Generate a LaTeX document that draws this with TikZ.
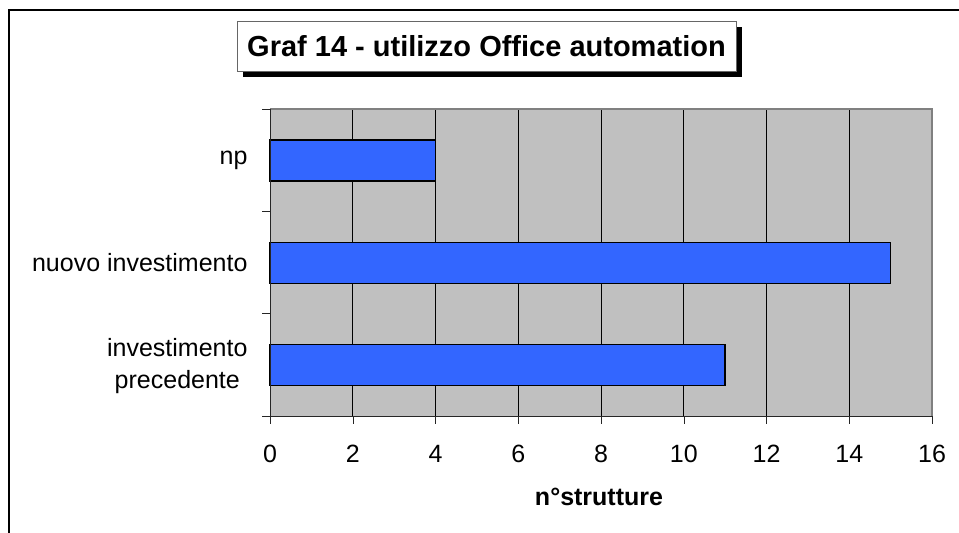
\documentclass[tikz,border=0pt]{standalone}
\usepackage{fontspec}
\setmainfont{Liberation Sans}
\usetikzlibrary{positioning,shadows}
\definecolor{barblue}{RGB}{51,102,255}
\definecolor{plotgray}{RGB}{192,192,192}

\begin{document}
\begin{tikzpicture}[x=1pt,y=-1pt,
  bar/.style = {draw=black,line width=1.6pt,fill=barblue},
  lbl/.style = {font=\fontsize{25}{32}\selectfont},
  grid/.style = {line width=0.8pt,black}]
\def\xo{270}
\def\xe{932}
\def\xu{41.375}
\def\ytop{109}
\def\ybot{416}
\useasboundingbox (0,0) rectangle (959,533);
% outer frame
\draw[line width=1.5pt] (9,533) -- (9,10) -- (959,10);
% plot area
\fill[plotgray] (\xo,\ytop) rectangle (\xe,\ybot);
\foreach \v in {2,4,...,14} {
	\draw[grid] (\xo+\v*\xu,\ytop) -- (\xo+\v*\xu,\ybot);
}
\draw[gray,line width=2pt] (\xo,\ytop) -- (\xe,\ytop) -- (\xe,\ybot);
% bars
\foreach \val/\yc/\nm in {4/160.5/np,15/263/nuovo,11/365/prec} {
	\draw[bar] (\xo,\yc-20.5) rectangle (\xo+\val*\xu,\yc+20.5);
}
% axes and ticks
\draw[line width=1pt,black!85] (\xo,\ytop) -- (\xo,\ybot) -- (\xe,\ybot);
\foreach \v in {0,2,...,16} {
	\draw[black!85] (\xo+\v*\xu,\ybot) -- ++(0,8);
	\node[lbl] (tick\v) at (\xo+\v*\xu,454) {\v};
}
\foreach \y in {109,211.33,313.67,416} {
	\draw[black!85] (\xo,\y) -- ++(-8,0);
}
% category labels
\node[lbl,anchor=east] (cnp) at (251,160.5) {np};
\node[lbl,anchor=east] (cnuovo) at (251,263) {nuovo investimento};
\node[lbl,anchor=east,align=center] (cprec) at (251,366) {investimento\\precedente};
% axis title
\node[lbl,font=\fontsize{25}{30}\selectfont\bfseries] (xlabel) at (599,497) {n°strutture};
% chart title
\node[draw=black!60,fill=white,line width=1pt,minimum width=499pt,minimum height=50pt,
  font=\fontsize{29}{34}\selectfont\bfseries,
  drop shadow={shadow xshift=6pt,shadow yshift=-6pt,opacity=1,fill=black}]
  (title) at (486.5,46) {Graf 14 - utilizzo Office automation};
\end{tikzpicture}
\end{document}
